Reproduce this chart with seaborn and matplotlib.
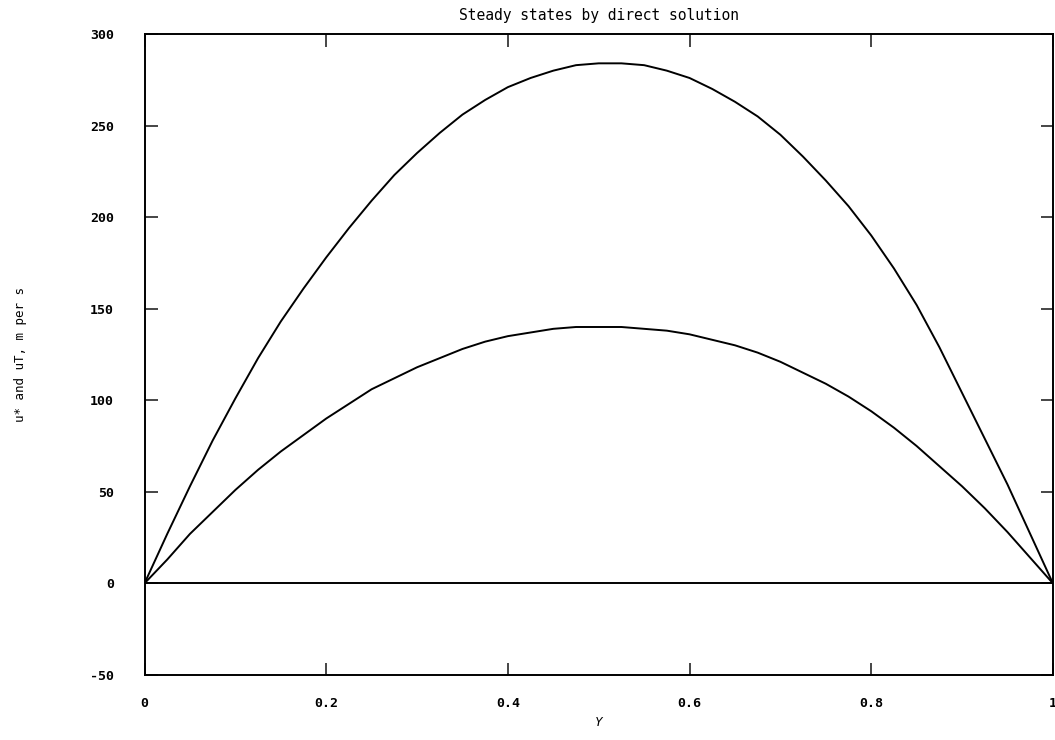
import matplotlib
matplotlib.use("Agg")
import matplotlib.pyplot as plt
import seaborn as sns
import pandas as pd

# ---- data ----
y_pos = [0.0, 0.025, 0.05, 0.075, 0.1, 0.125, 0.15, 0.175, 0.2, 0.225,
         0.25, 0.275, 0.3, 0.325, 0.35, 0.375, 0.4, 0.425, 0.45, 0.475,
         0.5, 0.525, 0.55, 0.575, 0.6, 0.625, 0.65, 0.675, 0.7, 0.725,
         0.75, 0.775, 0.8, 0.825, 0.85, 0.875, 0.9, 0.925, 0.95, 0.975, 1.0]
u_star = [0, 27, 53, 78, 101, 123, 143, 161, 178, 194,
          209, 223, 235, 246, 256, 264, 271, 276, 280, 283,
          284, 284, 283, 280, 276, 270, 263, 255, 245, 233,
          220, 206, 190, 172, 152, 129, 104, 79, 54, 27, 0]
u_T = [0, 13, 27, 39, 51, 62, 72, 81, 90, 98,
       106, 112, 118, 123, 128, 132, 135, 137, 139, 140,
       140, 140, 139, 138, 136, 133, 130, 126, 121, 115,
       109, 102, 94, 85, 75, 64, 53, 41, 28, 14, 0]
zero_x = [0.0, 1.0]
zero_y = [0.0, 0.0]

x_ticks = [0.0, 0.2, 0.4, 0.6, 0.8, 1.0]
x_ticklabels = ["0", "0.2", "0.4", "0.6", "0.8", "1"]
y_ticks = [-50, 0, 50, 100, 150, 200, 250, 300]
y_ticklabels = ["-50", "0", "50", "100", "150", "200", "250", "300"]

title = "Steady states by direct solution"
xlabel = "Y"
ylabel = "u* and uT, m per s"

sns.set_style("ticks")
plt.rcParams["font.family"] = ["DejaVu Sans Mono", "DejaVu Sans"]

fig = plt.figure(figsize=(10.55, 7.4), dpi=100)
ax = fig.add_axes([0.137, 0.088, 0.861, 0.866])

df = pd.DataFrame({"Y": y_pos * 2,
                   "u": u_star + u_T,
                   "series": ["u*"] * len(y_pos) + ["uT"] * len(y_pos)})
sns.lineplot(data=df, x="Y", y="u", units="series", estimator=None,
             color="black", linewidth=1.4, ax=ax, legend=False)
sns.lineplot(x=zero_x, y=zero_y, color="black", linewidth=1.4, ax=ax,
             legend=False)

ax.set_xlim(0, 1)
ax.set_ylim(-50, 300)
ax.set_xticks(x_ticks)
ax.set_xticklabels(x_ticklabels)
ax.set_yticks(y_ticks)
ax.set_yticklabels(y_ticklabels)
ax.tick_params(direction="in", length=9, width=1.2, labelsize=9.5,
               labelcolor="black", top=True, right=True,
               labelright=False, labeltop=False)
ax.tick_params(axis="y", pad=22)
ax.tick_params(axis="x", pad=16)
for lab in ax.get_xticklabels() + ax.get_yticklabels():
    lab.set_fontweight("semibold")
for s in ax.spines.values():
    s.set_linewidth(1.4)
    s.set_color("black")

ax.set_title(title, fontsize=10.5, pad=10, color="black")
ax.set_xlabel(xlabel, fontsize=9, style="italic", labelpad=4, color="black")
ax.set_ylabel(ylabel, fontsize=9, labelpad=45, color="black")

fig.savefig("out.png", dpi=100)
